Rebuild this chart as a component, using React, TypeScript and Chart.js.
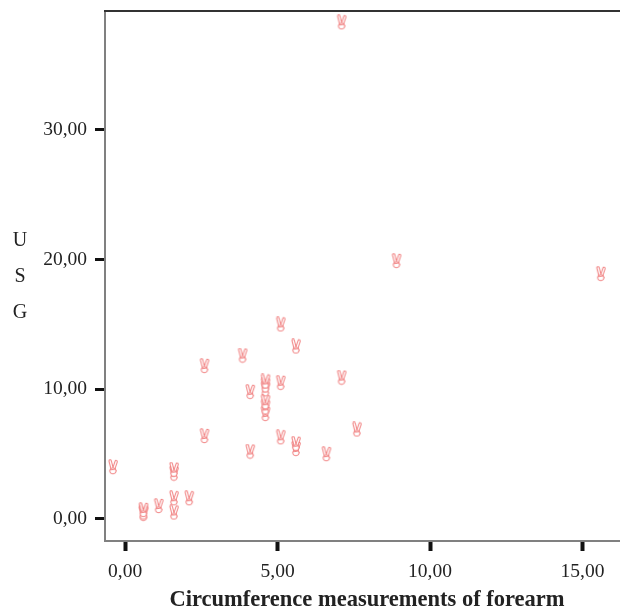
import React, { useEffect, useRef } from "react";
import { Chart, registerables } from "chart.js";

Chart.register(...registerables);

const forearmCirc = [-0.4, 0.6, 0.6, 0.6, 1.1, 1.6, 1.6, 2.1, 1.6, 1.6, 2.6, 2.6, 3.85, 4.1, 4.1, 4.6, 4.6, 4.6, 4.6, 4.6, 4.6, 5.1, 5.1, 5.1, 5.6, 5.6, 5.6, 6.6, 7.1, 7.1, 7.6, 8.9, 15.6];
const usg = [4.0, 0.4, 0.5, 0.7, 1.0, 0.5, 1.6, 1.6, 3.5, 3.8, 6.4, 11.8, 12.6, 9.8, 5.2, 10.0, 10.3, 10.6, 8.1, 8.6, 9.0, 15.0, 10.5, 6.3, 13.3, 5.4, 5.8, 5.0, 10.9, 38.3, 6.9, 19.9, 18.9];
const xTicks = [0, 5, 10, 15];
const yTicks = [0, 10, 20, 30];
const xTitle = "Circumference measurements of forearm";
const yTitleLetters = ["U", "S", "G"];

const fmt = (v: number) => v.toFixed(2).replace(".", ",");

function makeMarker(): HTMLCanvasElement {
  const c = document.createElement("canvas");
  c.width = 14;
  c.height = 16;
  const ctx = c.getContext("2d")!;
  const pink = "rgba(238,110,110,0.85)";
  ctx.lineCap = "round";
  const fingers: [number, number, number, number][] = [
    [6, 9, 4.2, 2],
    [8, 9, 10.2, 2.5],
  ];
  fingers.forEach(([x1, y1, x2, y2]) => {
    ctx.strokeStyle = pink;
    ctx.lineWidth = 3.4;
    ctx.beginPath();
    ctx.moveTo(x1, y1);
    ctx.lineTo(x2, y2);
    ctx.stroke();
  });
  fingers.forEach(([x1, y1, x2, y2]) => {
    ctx.strokeStyle = "#fff";
    ctx.lineWidth = 1.3;
    ctx.beginPath();
    ctx.moveTo(x1, y1);
    ctx.lineTo(x2, y2);
    ctx.stroke();
  });
  ctx.fillStyle = "#fff";
  ctx.strokeStyle = pink;
  ctx.lineWidth = 1;
  ctx.beginPath();
  ctx.ellipse(7, 11.8, 3.3, 3, 0, 0, Math.PI * 2);
  ctx.fill();
  ctx.stroke();
  ctx.beginPath();
  ctx.moveTo(4.5, 10.8);
  ctx.lineTo(9.5, 10);
  ctx.stroke();
  return c;
}

export default function App() {
  const ref = useRef<HTMLCanvasElement | null>(null);
  useEffect(() => {
    document.body.style.margin = "0";
    if (!ref.current) return;
    const marker = makeMarker();
    const serif = "'Liberation Serif', 'Times New Roman', serif";
    const decor = {
      id: "decor",
      afterDraw(chart: any) {
        const ctx = chart.ctx;
        const a = chart.chartArea;
        ctx.save();
        ctx.strokeStyle = "#333";
        ctx.lineWidth = 2;
        ctx.beginPath();
        ctx.moveTo(a.left - 1, a.top);
        ctx.lineTo(chart.width, a.top);
        ctx.stroke();
        ctx.fillStyle = "#222";
        ctx.font = `20px ${serif}`;
        ctx.textAlign = "center";
        ctx.textBaseline = "middle";
        const ys = [241, 277, 313];
        yTitleLetters.forEach((l, i) => ctx.fillText(l, 20, ys[i]));
        ctx.font = `bold 22.5px ${serif}`;
        ctx.fillText(xTitle, 367, 600);
        ctx.restore();
      },
    };
    const chart = new Chart(ref.current, {
      type: "scatter",
      data: {
        datasets: [
          {
            data: forearmCirc.map((x, i) => ({ x, y: usg[i] })),
            pointStyle: marker as any,
            pointRadius: 7,
          },
        ],
      },
      options: {
        animation: false,
        responsive: false,
        devicePixelRatio: 1,
        layout: { autoPadding: false, padding: { top: 11, left: 0, right: 0, bottom: 0 } },
        plugins: { legend: { display: false }, tooltip: { enabled: false } },
        scales: {
          x: {
            type: "linear",
            min: -0.66,
            max: 16.23,
            afterFit: (s: any) => {
              s.height = 69;
              s.paddingLeft = 0;
              s.paddingRight = 0;
            },
            afterBuildTicks: (s: any) => {
              s.ticks = xTicks.map((v) => ({ value: v }));
            },
            border: { display: true, color: "#808080", width: 2 },
            grid: { drawOnChartArea: false, drawTicks: true, tickLength: 10, tickWidth: 4, tickColor: "#111" },
            ticks: {
              padding: 9,
              color: "#222",
              font: { family: serif, size: 19.5 },
              maxRotation: 0,
              callback: (v: any) => fmt(Number(v)),
            },
          },
          y: {
            type: "linear",
            min: -1.7,
            max: 39.17,
            afterFit: (s: any) => {
              s.width = 105;
              s.paddingTop = 0;
              s.paddingBottom = 0;
            },
            afterBuildTicks: (s: any) => {
              s.ticks = yTicks.map((v) => ({ value: v }));
            },
            border: { display: true, color: "#808080", width: 2 },
            grid: { drawOnChartArea: false, drawTicks: true, tickLength: 10, tickWidth: 3, tickColor: "#111" },
            ticks: {
              padding: 8,
              color: "#222",
              font: { family: serif, size: 19.5 },
              callback: (v: any) => fmt(Number(v)),
            },
          },
        },
      },
      plugins: [decor],
    });
    return () => chart.destroy();
  }, []);
  return (
    <div style={{ width: 620, height: 610, background: "#fff" }}>
      <canvas ref={ref} width={620} height={610} style={{ display: "block" }} />
    </div>
  );
}
